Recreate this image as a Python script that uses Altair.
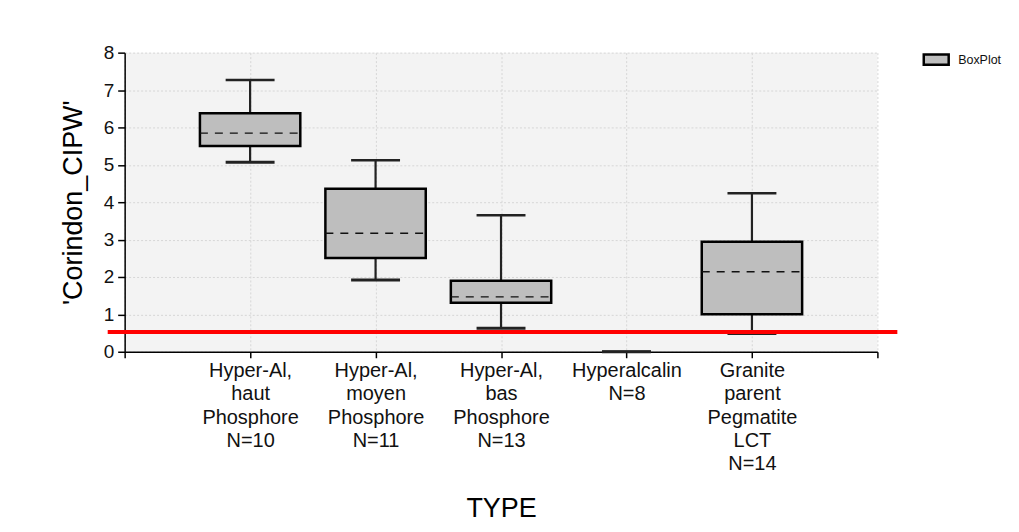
import json
import altair as alt
import pandas as pd

# ---- data ----
type_lines = [
    ["Hyper-Al,", "haut", "Phosphore"],
    ["Hyper-Al,", "moyen", "Phosphore"],
    ["Hyper-Al,", "bas", "Phosphore"],
    ["Hyperalcalin"],
    ["Granite", "parent", "Pegmatite", "LCT"],
]
n_values = [10, 11, 13, 8, 14]
whisker_low = [5.07, 1.92, 0.63, 0.0, 0.49]
q1 = [5.50, 2.51, 1.31, 0.0, 1.00]
median = [5.85, 3.17, 1.47, 0.0, 2.14]
q3 = [6.38, 4.36, 1.90, 0.0, 2.94]
whisker_high = [7.27, 5.12, 3.65, 0.0, 4.24]
threshold = [0.53]
series_name = ["BoxPlot"]
x_ticks = [0, 1, 2, 3, 4, 5, 6]
y_ticks = [0, 1, 2, 3, 4, 5, 6, 7, 8]

idx = list(range(1, len(type_lines) + 1))
df = pd.DataFrame({
    "idx": idx,
    "low": whisker_low,
    "q1": q1,
    "med": median,
    "q3": q3,
    "high": whisker_high,
    "series": series_name * len(idx),
})
df_thr = pd.DataFrame({"y": threshold})

# label expression built from the lists
full_labels = [lines + [f"N={n}"] for lines, n in zip(type_lines, n_values)]
expr = "''"
for i, lab in reversed(list(enumerate(full_labels, start=1))):
    expr = f"datum.value == {i} ? {json.dumps(lab)} : ({expr})"

FONT = "Liberation Sans"
BOX_HALF = 0.4
CAP_HALF = 0.195

x_scale = alt.Scale(domain=[0, 6], nice=False, zero=False)
y_scale = alt.Scale(domain=[0, 8], nice=False)

x_axis = alt.Axis(
    title="TYPE", values=x_ticks, labelExpr=expr, tickCount=50,
    labelFontSize=20, labelLineHeight=23.3, labelColor="#111", labelFont=FONT,
    labelPadding=3, tickSize=6, tickColor="#000", domainColor="#000",
    domainWidth=1.5, tickWidth=1.5, labelFlush=False, labelOverlap=False,
    titleFontSize=27, titleFont=FONT, titleFontWeight="normal", titleColor="#000",
    titlePadding=22, grid=True, gridColor="#d6d6d6", gridDash=[2, 2], gridWidth=1,
)
y_axis = alt.Axis(
    title="'Corindon_CIPW'", values=y_ticks, tickCount=50, format="d",
    labelFontSize=19, labelColor="#111", labelFont=FONT, labelPadding=4,
    labelOverlap=False, labelFlush=False,
    tickSize=7, tickColor="#000", domainColor="#000", domainWidth=1.5, tickWidth=1.5,
    titleFontSize=27, titleFont=FONT, titleFontWeight="normal", titleColor="#000",
    titlePadding=16, grid=True, gridColor="#d6d6d6", gridDash=[2, 2], gridWidth=1,
)


def X(field):
    return alt.X(field, type="quantitative", scale=x_scale, axis=x_axis)


def Y(field):
    return alt.Y(field, type="quantitative", scale=y_scale, axis=y_axis)


base = alt.Chart(df).transform_calculate(
    bx0=f"datum.idx - {BOX_HALF}", bx1=f"datum.idx + {BOX_HALF}",
    cx0=f"datum.idx - {CAP_HALF}", cx1=f"datum.idx + {CAP_HALF}",
)

whisk_hi = base.mark_rule(color="#222", strokeWidth=2.2).encode(
    x=X("idx"), y=Y("q3"), y2="high:Q")
whisk_lo = base.mark_rule(color="#222", strokeWidth=2.2).encode(
    x=X("idx"), y=Y("low"), y2="q1:Q")
cap_hi = base.mark_rule(color="#222", strokeWidth=2.5).encode(
    x=X("cx0"), x2="cx1:Q", y=Y("high"))
cap_lo = base.mark_rule(color="#222", strokeWidth=3).encode(
    x=X("cx0"), x2="cx1:Q", y=Y("low"))

box = base.transform_filter("datum.q3 > datum.q1").mark_rect(
    stroke="#000", strokeWidth=2.5).encode(
    x=X("bx0"), x2="bx1:Q", y=Y("q1"), y2="q3:Q",
    fill=alt.Fill("series:N", scale=alt.Scale(range=["#bebebe"]),
                  legend=alt.Legend(
                      title=None, orient="none", legendX=800, legendY=-7,
                      symbolType="M-1,-0.42H1V0.42H-1Z", symbolSize=625,
                      symbolStrokeColor="#000", symbolStrokeWidth=2.5,
                      symbolFillColor="#bebebe", labelFontSize=12.5,
                      labelFont=FONT, labelColor="#111", labelOffset=8,
                      padding=0)),
)
med_line = base.transform_filter("datum.q3 > datum.q1").mark_rule(
    color="#111", strokeWidth=1.3, strokeDash=[8, 7]).encode(
    x=X("bx0"), x2="bx1:Q", y=Y("med"))

red = alt.Chart(df_thr).mark_rule(color="#ff0000", strokeWidth=4).encode(
    y=Y("y"), x=alt.value(-17), x2=alt.value(775))

chart = alt.layer(
    whisk_hi, whisk_lo, cap_hi, cap_lo, box, med_line, red
).properties(
    width=755, height=300,
    autosize=alt.AutoSizeParams(type="none"),
    padding={"left": 117, "top": 44, "right": 134, "bottom": 176},
    background="#ffffff",
).configure_view(fill="#f3f3f3", stroke=None)

chart.save("out.html", embed_options={"renderer": "svg", "actions": False})
